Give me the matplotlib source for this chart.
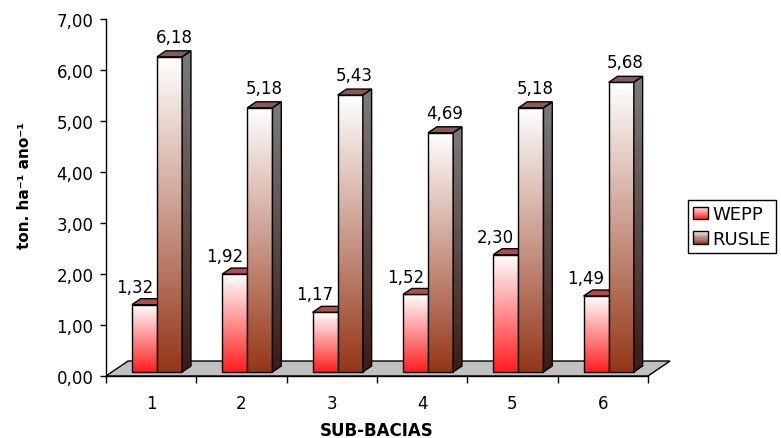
import numpy as np
import matplotlib.pyplot as plt
from matplotlib.patches import Polygon, Rectangle, Patch
from matplotlib.legend_handler import HandlerBase
from matplotlib.colors import to_rgb

# perda de solo por sub-bacia
sub_bacias = ['1', '2', '3', '4', '5', '6']
wepp = [1.32, 1.92, 1.17, 1.52, 2.30, 1.49]
rusle = [6.18, 5.18, 5.43, 4.69, 5.18, 5.68]
y_ticks = [0, 1, 2, 3, 4, 5, 6, 7]

plt.rcParams['font.family'] = ['DejaVu Sans']
FS = 12


def virgula(v):
    return f"{v:.2f}".replace('.', ',')


def gradiente(cor_topo, cor_base, n=256):
    t = np.linspace(0, 1, n)[:, None]
    c0 = np.array(to_rgb(cor_topo))
    c1 = np.array(to_rgb(cor_base))
    return (c0 + (c1 - c0) * t)[:, None, :]


def preencher(ax, patch, x0, x1, y0, y1, cor_topo, cor_base, z):
    im = ax.imshow(gradiente(cor_topo, cor_base), extent=[x0, x1, y0, y1],
                   origin='upper', aspect='auto', interpolation='bilinear', zorder=z)
    im.set_clip_path(patch)


fig = plt.figure(figsize=(7.81, 4.39), dpi=100)
ax = fig.add_axes([106 / 781, 62 / 439, 542 / 781, 357 / 439])

# profundidade do "3D" em unidades de dados
DX, DY = 0.2436, 0.294
F0, F1 = 0.267, 0.667
W = 0.278
ox, oy = F0 * DX, F0 * DY
bx, by = (F1 - F0) * DX, (F1 - F0) * DY

piso = Polygon([(0, 0), (6, 0), (6 + DX, DY), (DX, DY)], closed=True,
               fc='#C0C0C0', ec='black', lw=1, clip_on=False, zorder=1)
ax.add_patch(piso)

centros = np.arange(len(sub_bacias)) + 0.5
x_wepp = centros - W + ox
x_rusle = centros + ox

series = [
    (x_wepp, wepp, 2, ('#FFFFFF', '#FF1E1E'), '#B84A4A', None),
    (x_rusle, rusle, 3, ('#FFFFFF', '#953618'), '#875A55', ('#7C7C7C', '#3E1A12')),
]

for xs, vals, z, cores, cor_topo, cor_lado in series:
    barras = ax.bar(xs, vals, width=W, bottom=oy, align='edge',
                    fc='none', ec='black', lw=1, zorder=z + 0.1)
    for b, x, v in zip(barras, xs, vals):
        yt = oy + v
        preencher(ax, b, x, x + W, oy, yt, cores[0], cores[1], z)
        topo = Polygon([(x, yt), (x + W, yt), (x + W + bx, yt + by), (x + bx, yt + by)],
                       closed=True, fc=cor_topo, ec='black', lw=1, zorder=z + 0.2)
        ax.add_patch(topo)
        if cor_lado is not None:
            xr = x + W
            lado = Polygon([(xr, oy), (xr + bx, oy + by), (xr + bx, yt + by), (xr, yt)],
                           closed=True, fc='none', ec='black', lw=1, zorder=z + 0.2)
            ax.add_patch(lado)
            preencher(ax, lado, xr, xr + bx, oy, yt + by, cor_lado[0], cor_lado[1], z + 0.15)

# rótulos de valor
for x, v in zip(x_wepp, wepp):
    ax.annotate(virgula(v), xy=(x + W, oy + v + by), xytext=(-3, 5),
                textcoords='offset points', ha='right', va='baseline', fontsize=FS, zorder=6)
for x, v in zip(x_rusle, rusle):
    ax.annotate(virgula(v), xy=(x + W / 2 + bx / 2, oy + v + by), xytext=(0, 6.5),
                textcoords='offset points', ha='center', va='baseline', fontsize=FS, zorder=6)

ax.set_xlim(0, 6)
ax.set_ylim(0, 7)

ax.set_yticks(y_ticks, labels=[virgula(t) for t in y_ticks])
ax.tick_params(axis='y', direction='out', length=4, width=1, pad=5, labelsize=FS)
ax.set_xticks(range(7), labels=[''] * 7)
ax.set_xticks(centros, labels=sub_bacias, minor=True)
ax.tick_params(axis='x', which='major', direction='out', length=5, width=1)
ax.tick_params(axis='x', which='minor', length=0, pad=13, labelsize=FS)

for s in ['top', 'right']:
    ax.spines[s].set_visible(False)
for s in ['left', 'bottom']:
    ax.spines[s].set_linewidth(1)
ax.patch.set_visible(False)

fig.text(377 / 781, 1 - 436 / 439, 'SUB-BACIAS', ha='center', va='baseline',
         fontsize=FS, fontweight='bold')
fig.text(25 / 781, 1 - 186 / 439, 'ton. ha⁻¹ ano⁻¹', ha='center', va='center',
         rotation=90, fontsize=11, fontweight='bold')


class HandlerGradiente(HandlerBase):
    def __init__(self, cor_topo, cor_base, n=12):
        super().__init__()
        self.cores = gradiente(cor_topo, cor_base, n)[:, 0, :]
        self.n = n

    def create_artists(self, legend, orig_handle, xdescent, ydescent,
                       width, height, fontsize, trans):
        x0, y0 = -xdescent, -ydescent
        artistas = []
        for k in range(self.n):
            # k = 0 no topo
            yk = y0 + height - (k + 1) * height / self.n
            artistas.append(Rectangle((x0, yk), width, height / self.n,
                                      fc=self.cores[k], ec='none', transform=trans))
        artistas.append(Rectangle((x0, y0), width, height, fc='none', ec='black',
                                  lw=1, transform=trans))
        return artistas


h_wepp = Patch(label='WEPP')
h_rusle = Patch(label='RUSLE')
leg = ax.legend(handles=[h_wepp, h_rusle], loc='upper left',
                bbox_to_anchor=(688 / 781, 1 - 201 / 439), bbox_transform=fig.transFigure,
                borderaxespad=0, fancybox=False, edgecolor='black', framealpha=1,
                fontsize=13, handlelength=0.8, handleheight=0.7, handletextpad=0.25,
                borderpad=0.3, labelspacing=0.35,
                handler_map={h_wepp: HandlerGradiente('#FFE0E0', '#FF2A2A'),
                             h_rusle: HandlerGradiente('#F2ECEC', '#8E3A22')})
leg.get_frame().set_linewidth(1)

fig.savefig('out.png', dpi=100)
